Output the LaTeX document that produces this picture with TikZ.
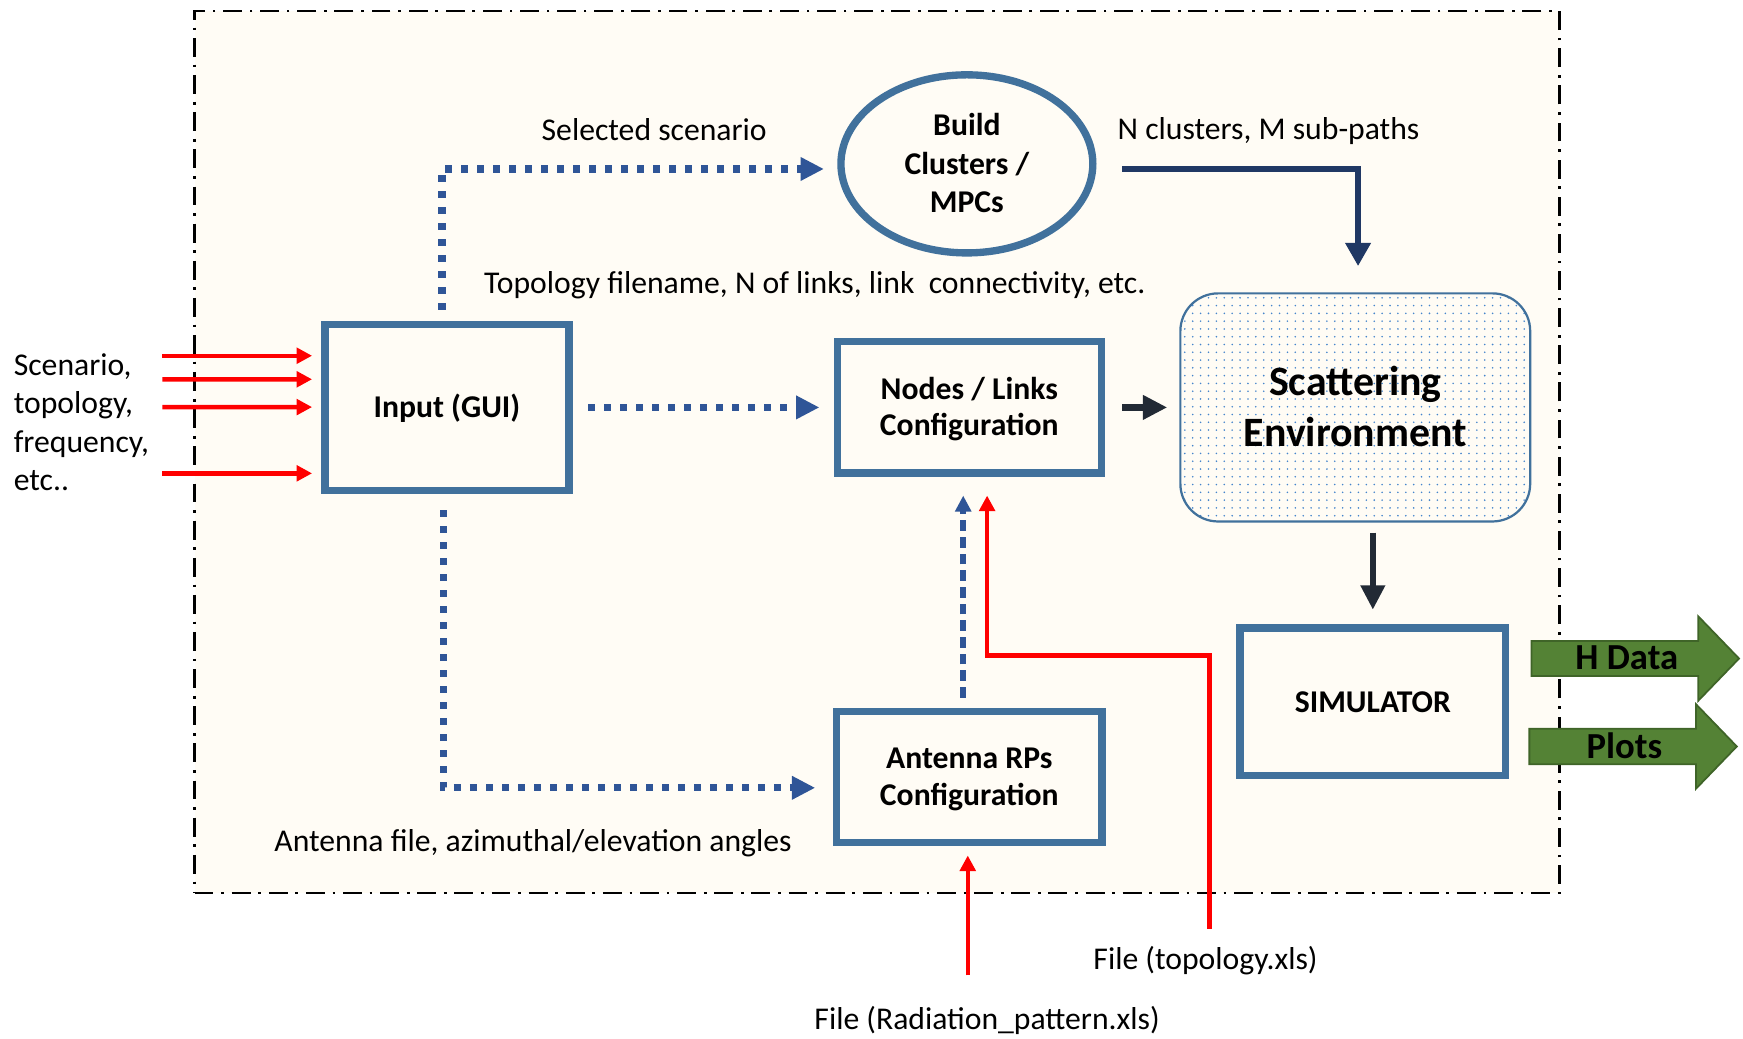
\documentclass[tikz,border=0pt]{standalone}
\usepackage{fontspec}
\setmainfont{Carlito}
\usetikzlibrary{arrows.meta,shapes.geometric,shapes.arrows,calc}
\definecolor{boxblue}{HTML}{41719C}
\definecolor{dotblue}{HTML}{2F5597}
\definecolor{cnavy}{HTML}{203864}
\definecolor{cdark}{HTML}{222A35}
\definecolor{cream}{HTML}{FFFCF5}
\definecolor{gfill}{HTML}{548235}
\definecolor{gline}{HTML}{3F6428}
\definecolor{speck}{HTML}{4585CC}
\newcommand{\mlines}[1]{\begin{tabular}[t]{@{}c@{}}#1\end{tabular}}
\tikzset{
  framebox/.style={draw=black, line width=1pt, fill=cream, dash pattern=on 8.5pt off 3.5pt on 1.2pt off 3.5pt, inner sep=0pt},
  box/.style={draw=boxblue, line width=3.3pt, fill=cream, inner sep=0pt, font=\fontsize{14.25}{16.6}\selectfont\bfseries},
  lbl/.style={inner sep=0pt, font=\fontsize{14.25}{17.15}\selectfont},
  dotarr/.style={draw=dotblue, line width=3.2pt, dash pattern=on 3.2pt off 4pt, -{Triangle[length=10.5pt,width=10pt]}},
  bluedash/.style={draw=dotblue, line width=2.6pt, dash pattern=on 4.8pt off 2.7pt, -{Triangle[length=7.2pt,width=7pt]}},
  redarr/.style={draw=red, line width=2pt, -{Triangle[length=7pt,width=7pt]}},
  navyarr/.style={draw=cnavy, line width=3pt, -{Triangle[length=10.5pt,width=11pt]}},
  darkarrow/.style={draw=cdark, line width=3pt, -{Triangle[length=11pt,width=10.5pt]}},
  garrow/.style={single arrow, draw=gline, line width=0.8pt, fill=gfill, minimum height=93.3pt, minimum width=38pt, single arrow head extend=9.5pt, single arrow tip angle=92, inner sep=0pt, anchor=tail, font=\fontsize{16.5}{18}\selectfont\bfseries}
}
\begin{document}
\begin{tikzpicture}[x=0.5pt,y=-0.5pt]
\useasboundingbox (0,0) rectangle (1568,934);
% frame
\node[framebox, minimum width=614pt, minimum height=396.5pt] (frame) at (789,406.5) {};

% boxes
\node[box, minimum width=109.75pt, minimum height=74.5pt, text height=11pt, text depth=1.8pt] (in) at (402,366.5) {Input (GUI)};
\node[box, minimum width=118.85pt, minimum height=59.1pt, text height=5pt, text depth=12.5pt] (nl) at (872,366.5) {\mlines{Nodes / Links\\Configuration}};
\node[box, minimum width=119.3pt, minimum height=59pt, text height=5pt, text depth=12.8pt] (ar) at (872,699) {\mlines{Antenna RPs\\Configuration}};
\node[box, minimum width=119.5pt, minimum height=66.4pt, text height=11pt, text depth=1.4pt] (sim) at (1235,631.2) {SIMULATOR};
\node[ellipse, draw=boxblue, line width=3.3pt, fill=cream, minimum width=113.3pt, minimum height=80.1pt, inner sep=0pt, text height=5pt, text depth=30.1pt, font=\fontsize{14.25}{17.2}\selectfont\bfseries] (bc) at (869.8,147.4) {\mlines{Build\\Clusters /\\MPCs}};
\node[draw=boxblue, line width=1pt, rounded corners=17pt, fill=cream, minimum width=157.35pt, minimum height=102.6pt, inner sep=0pt, text height=5pt, text depth=15.5pt, font=\fontsize{18.8}{22.8}\selectfont\bfseries,
  path picture={\foreach \i in {0,...,45}{\foreach \j in {0,...,29}{\fill[speck] ([xshift={\i*3.55pt+2pt},yshift={-\j*3.5pt-2pt}]path picture bounding box.north west) circle[radius=0.4pt];}}}] (sc) at (1219.2,366.5) {\mlines{Scattering\\Environment}};

% green outputs
\node[garrow, text height=11.5pt, text depth=1.2pt] (hd) at (1377,592.4) {H Data};
\node[garrow, text height=11.85pt, text depth=1.15pt] (pl) at (1375,671.5) {Plots};

% labels
\node[lbl, anchor=base] (lsel) at (588.5,126) {Selected scenario};
\node[lbl, anchor=base west] (lnc) at (1005,125.5) {N clusters, M sub-paths};
\node[lbl, anchor=base] (ltopo) at (733,264) {Topology filename, N of links, link\ \ connectivity, etc.};
\node[lbl, anchor=base] (lant) at (479.5,766.4) {Antenna file, azimuthal/elevation angles};
\node[lbl, anchor=base] (lftopo) at (1084.5,872) {File (topology.xls)};
\node[lbl, anchor=base] (lfrad) at (888,926.4) {File (Radiation\_pattern.xls)};
\node[lbl, anchor=north west, align=left] (lleft) at (12,318) {Scenario,\\topology,\\frequency,\\etc..};

% free ends
\coordinate (r1) at (146,320);
\coordinate (r2) at (146,341.2);
\coordinate (r3) at (146,366.2);
\coordinate (r4) at (146,425.8);
\coordinate (rt) at (1088,835.7);
\coordinate (rr) at (870.6,877.5);

% red inputs
\draw[redarr] (r1) -- ([xshift=-4.1pt,yshift=23.25pt]in.west);
\draw[redarr] (r2) -- ([xshift=-4.1pt,yshift=12.65pt]in.west);
\draw[redarr] (r3) -- ([xshift=-4.1pt,yshift=0.15pt]in.west);
\draw[redarr] (r4) -- ([xshift=-4.1pt,yshift=-29.65pt]in.west);

% dotted blue
\draw[dotarr] ([xshift=-2.2pt,yshift=5pt]in.north) |- ([xshift=-6pt,yshift=-2.3pt]bc.west);
\draw[dotarr] ([xshift=7pt]in.east) -- ([xshift=-6.35pt]nl.west);
\draw[dotarr] ([xshift=-1.5pt,yshift=-7.3pt]in.south) |- ([xshift=-8pt,yshift=-4.85pt]ar.west);

% dark arrows
\draw[navyarr] ([xshift=11.65pt,yshift=-2.3pt]bc.east) -| ([xshift=1.25pt,yshift=11.75pt]sc.north);
\draw[darkarrow] ([xshift=7.75pt]nl.east) -- ([xshift=-5.4pt]sc.west);
\draw[darkarrow] ($(sc.south -| sim.north)+(0,9.1)$) -- ([yshift=6.5pt]sim.north);

% antenna to nodes
\draw[bluedash] ([xshift=-2.75pt,yshift=4.55pt]ar.north) -- ([xshift=-2.75pt,yshift=-8.45pt]nl.south);

% red file arrows
\draw[redarr] (rt) |- ([xshift=8pt,yshift=-80.3pt]nl.south) -- ([xshift=8pt,yshift=-8.45pt]nl.south);
\draw[redarr] (rr) -- ([xshift=-0.7pt,yshift=-4.15pt]ar.south);
\end{tikzpicture}
\end{document}
